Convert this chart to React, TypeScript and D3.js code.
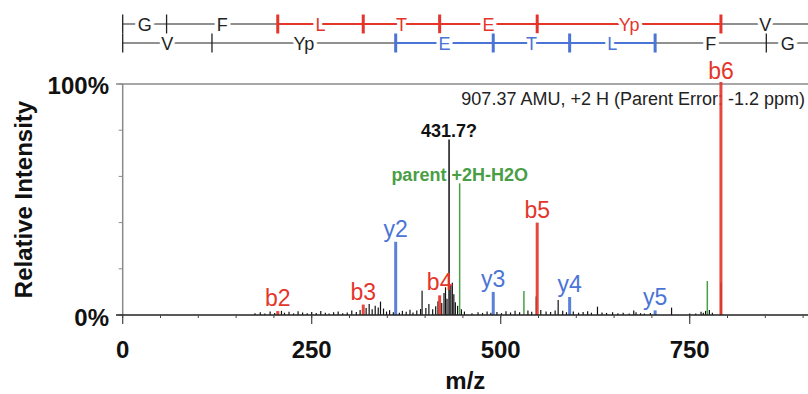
import React from "react";
import * as d3 from "d3";

// ---- data ----
const residues = ["G", "F", "L", "T", "E", "Yp", "V"];
const bIons = [58.03, 205.1, 318.18, 419.23, 548.27, 791.3]; // b1..b6
const yIons = [118.09, 361.09, 490.13, 591.18, 704.26, 851.33]; // y1..y6
const bSeen = [false, true, true, true, true, true];
const ySeen = [false, true, true, true, true, false];
const precursorMH = 908.38;

const ionLabels = ["b2", "b3", "b4", "b5", "b6", "y2", "y3", "y4", "y5"];
const ionMz = [205.1, 318.18, 419.23, 548.27, 791.3, 361.09, 490.13, 591.18, 704.26];
const ionInt = [1.7, 4.5, 8.5, 40, 100, 31.7, 10, 7.8, 2.0];

const otherLabels = ["431.7?", "parent +2H-H2O", "", ""];
const otherMz = [431.7, 445.7, 530.7, 773.3];
const otherInt = [76, 57, 10.4, 14.7];
const otherKind = ["black", "green", "green", "green"];

const noiseMz = [175, 182, 188, 195, 201, 210, 214, 220, 226, 232, 238, 244, 250, 256, 262, 268, 273, 279, 285, 291, 297, 303, 309, 314, 322, 326, 330, 334, 338, 341, 345, 349, 353, 358, 366, 370, 375, 380, 384, 389, 394, 396, 401, 405, 410, 414, 417, 422, 425, 427, 429, 434, 436, 438, 440, 443, 448, 452, 462, 470, 476, 482, 487, 495, 501, 507, 513, 519, 525, 536, 541, 547, 553, 560, 566, 572, 576, 582, 587, 596, 603, 609, 615, 620, 628, 634, 640, 648, 655, 662, 670, 676, 679, 685, 690, 698, 726, 750, 758, 765, 768, 771, 776, 780, 791.5];
const noiseInt = [0.8, 1.2, 0.6, 1.5, 0.9, 1.8, 1.0, 1.4, 0.7, 1.6, 1.1, 0.8, 1.3, 0.9, 1.7, 1.0, 0.6, 1.2, 1.5, 0.8, 1.1, 1.9, 1.3, 2.2, 3.0, 4.8, 2.5, 4.0, 3.2, 5.8, 2.8, 1.5, 2.1, 1.2, 1.0, 1.8, 1.4, 2.3, 1.1, 1.9, 2.6, 10.5, 3.0, 4.8, 2.5, 3.8, 6.0, 5.2, 9.5, 12.0, 7.0, 13.0, 14.0, 9.0, 5.5, 4.0, 2.5, 1.5, 0.8, 1.2, 0.9, 1.5, 1.0, 1.3, 0.8, 1.6, 1.1, 1.8, 1.2, 2.0, 1.4, 8.0, 2.2, 1.5, 1.3, 2.0, 6.5, 1.8, 1.2, 1.5, 1.0, 1.3, 1.6, 1.0, 3.6, 1.1, 0.9, 1.2, 0.8, 1.0, 0.7, 1.9, 1.2, 0.8, 0.6, 0.9, 3.2, 0.6, 0.7, 1.4, 1.0, 1.8, 2.2, 1.0, 14];

const xMajor = [0, 250, 500, 750];
const yTicks = [0, 20, 40, 60, 80, 100];

const RED = "#e4352a";
const BLUE = "#4a74d6";
const GREEN = "#4a9e45";
const FONT = "'Liberation Sans', Arial, sans-serif";

export default function App() {
  const W = 808, H = 394;
  const x = d3.scaleLinear().domain([0, 907]).range([122.7, 808.4]);
  const y = d3.scaleLinear().domain([0, 100]).range([315, 84]);
  const minor = d3.range(0, 901, 50);

  const colorFor = (lab: string) => (lab.startsWith("b") ? RED : BLUE);

  // sequence rows
  const topTicks = [0, ...bIons, precursorMH];
  const botTicks = [0, ...yIons, precursorMH];
  const rowTop = 24, rowBot = 43;

  const renderRow = (ticks: number[], seen: boolean[], labels: string[], yy: number, col: string) => {
    const segs = [];
    for (let i = 0; i < ticks.length - 1; i++) {
      const colored = i >= 1 && i <= seen.length - 1 && seen[i - 1] && seen[i];
      const c = colored ? col : "#222";
      segs.push(
        <g key={i}>
          <line x1={x(ticks[i])} x2={x(ticks[i + 1])} y1={yy} y2={yy} stroke={c} strokeWidth={colored ? 2.2 : 1.1} />
          <text x={(x(ticks[i]) + x(ticks[i + 1])) / 2} y={yy + 6.5} textAnchor="middle" fontSize={18} fontFamily={FONT}
            fill={c} stroke="white" strokeWidth={7} paintOrder="stroke">{labels[i]}</text>
        </g>
      );
    }
    const tks = ticks.slice(0, -1).map((t, i) => {
      const colored = i >= 1 && seen[i - 1];
      return <line key={"t" + i} x1={x(t)} x2={x(t)} y1={yy - 9.5} y2={yy + 9.5} stroke={colored ? col : "#222"} strokeWidth={colored ? 3 : 1.3} />;
    });
    return <g>{segs}{tks}</g>;
  };

  const botLabels = residues.slice().reverse();

  return (
    <svg width={W} height={H} style={{ position: "absolute", left: 0, top: 0, background: "white" }} fontFamily={FONT}>
      <rect width={W} height={H} fill="white" />
      {renderRow(topTicks, bSeen, residues, rowTop, RED)}
      {renderRow(botTicks, ySeen, botLabels, rowBot, BLUE)}

      {/* frame */}
      <line x1={116} x2={W} y1={y(100)} y2={y(100)} stroke="#8a8a8a" strokeWidth={1.5} />
      <line x1={x(0)} x2={x(0)} y1={y(100)} y2={y(0)} stroke="#8a8a8a" strokeWidth={1.5} />
      {yTicks.map((t) => (
        <line key={t} x1={x(0) - 4} x2={x(0)} y1={y(t)} y2={y(t)} stroke="#8a8a8a" strokeWidth={1} />
      ))}
      <text x={109} y={y(100) + 10} textAnchor="end" fontSize={24} fontWeight="bold" fill="#111">100%</text>
      <text x={109} y={y(0) + 11} textAnchor="end" fontSize={24} fontWeight="bold" fill="#111">0%</text>
      <text transform={`translate(32,${(y(0) + y(100)) / 2}) rotate(-90)`} textAnchor="middle" fontSize={24} fontWeight="bold" fill="#111">Relative Intensity</text>

      {/* annotation */}
      <text x={805} y={105} textAnchor="end" fontSize={18} fill="#222">907.37 AMU, +2 H (Parent Error: -1.2 ppm)</text>

      {/* noise peaks */}
      {noiseMz.map((m, i) => (
        <line key={"n" + i} x1={x(m)} x2={x(m)} y1={y(0)} y2={y(noiseInt[i])} stroke="#111" strokeWidth={1.2} />
      ))}
      {/* other peaks */}
      {otherMz.map((m, i) => {
        const c = otherKind[i] === "green" ? GREEN : "#111";
        return (
          <g key={"o" + i}>
            <line x1={x(m)} x2={x(m)} y1={y(0)} y2={y(otherInt[i])} stroke={c} strokeWidth={1.5} />
            {otherLabels[i] && (
              <text x={x(m)} y={y(otherInt[i]) - 2} textAnchor="middle" fontSize={18} fontWeight="bold" fill={c}>{otherLabels[i]}</text>
            )}
          </g>
        );
      })}
      {/* annotated ions */}
      {ionMz.map((m, i) => {
        const c = colorFor(ionLabels[i]);
        return (
          <g key={"i" + i}>
            <line x1={x(m)} x2={x(m)} y1={y(0)} y2={y(ionInt[i]) - (ionInt[i] >= 100 ? 2 : 0)} stroke={c} strokeWidth={3} opacity={0.9} />
            <text x={x(m)} y={y(ionInt[i]) - 5} textAnchor="middle" fontSize={23} fill={c}>{ionLabels[i]}</text>
          </g>
        );
      })}

      {/* x axis */}
      <line x1={116} x2={W} y1={y(0)} y2={y(0)} stroke="#222" strokeWidth={1.5} />
      {minor.map((t) => (
        <line key={"m" + t} x1={x(t)} x2={x(t)} y1={y(0)} y2={y(0) + 3} stroke="#444" strokeWidth={1} />
      ))}
      {xMajor.map((t) => (
        <g key={"M" + t}>
          <line x1={x(t)} x2={x(t)} y1={y(0)} y2={y(0) + 9} stroke="#444" strokeWidth={1.2} />
          <text x={x(t)} y={358} textAnchor="middle" fontSize={24} fontWeight="bold" fill="#111">{t}</text>
        </g>
      ))}
      <text x={(x(0) + W) / 2} y={389} textAnchor="middle" fontSize={24} fontWeight="bold" fill="#111">m/z</text>
    </svg>
  );
}
